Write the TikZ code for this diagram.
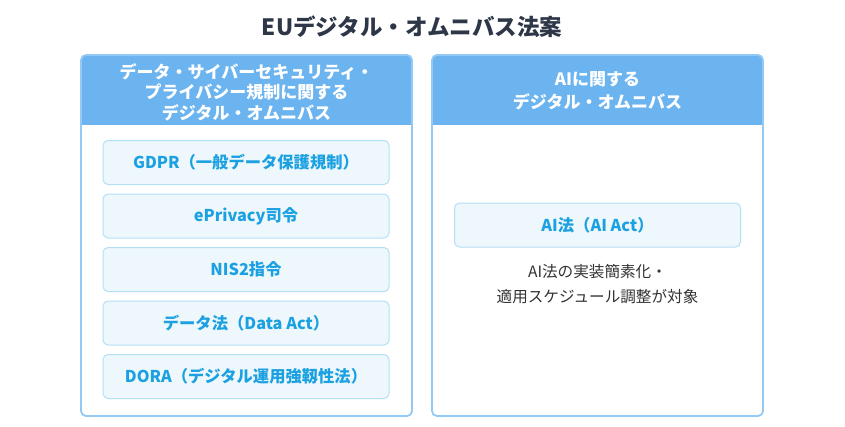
\documentclass[tikz,border=0pt]{standalone}
\usepackage{fontspec}
\setmainfont{Noto Sans CJK JP}
\newfontfamily\jp{Noto Sans CJK JP}
\definecolor{hdrblue}{HTML}{6CB4F0}
\definecolor{panelborder}{HTML}{93C9F5}
\definecolor{itemfill}{HTML}{EEF7FB}
\definecolor{itemborder}{HTML}{B3E0F7}
\definecolor{itemtext}{HTML}{1BA1E2}
\definecolor{titletext}{HTML}{2D3748}
\definecolor{desctext}{HTML}{333333}
\tikzset{
  itembox/.style={draw=itemborder, line width=1pt, fill=itemfill, rounded corners=5pt,
    minimum width=286pt, minimum height=44pt, inner sep=0pt,
    font=\jp\bfseries\fontsize{16.3}{19}\selectfont, text=itemtext},
  hdrtext/.style={font=\jp\bfseries\fontsize{17}{20.5}\selectfont, text=white, align=center},
  paneloutline/.style={draw=panelborder, line width=1.8pt, rounded corners=5pt}
}
\begin{document}
\begin{tikzpicture}[x=1pt,y=-1pt]
\useasboundingbox (0,0) rectangle (845,426);
\fill[white] (0,0) rectangle (845,426);
\node[font=\jp\bfseries\fontsize{22.5}{26}\selectfont, text=titletext] (title) at (412,27) {EUデジタル・オムニバス法案};
% left panel
\begin{scope}
\clip[rounded corners=5pt] (81,55) rectangle (412,416);
\fill[white] (81,55) rectangle (412,416);
\fill[hdrblue] (81,55) rectangle (412,125);
\end{scope}
\draw[paneloutline] (81,55) rectangle (412,416);
\node[hdrtext] (lhdr) at (246.5,92) {データ・サイバーセキュリティ・\\プライバシー規制に関する\\デジタル・オムニバス};
% right panel
\begin{scope}
\clip[rounded corners=5pt] (432,55) rectangle (763,416);
\fill[white] (432,55) rectangle (763,416);
\fill[hdrblue] (432,55) rectangle (763,125);
\end{scope}
\draw[paneloutline] (432,55) rectangle (763,416);
\node[hdrtext, align=center, font=\jp\bfseries\fontsize{17}{22.5}\selectfont] (rhdr) at (597.5,91) {AIに関する\\デジタル・オムニバス};
% left items
\node[itembox] (gdpr) at (246,162.5) {GDPR（一般データ保護規制）};
\node[itembox] (epriv) at (246,216) {ePrivacy司令};
\node[itembox] (nis) at (246,269.5) {NIS2指令};
\node[itembox] (data) at (246,323) {データ法（Data Act）};
\node[itembox] (dora) at (246,376.5) {DORA（デジタル運用強靱性法）};
% right item
\node[itembox] (aiact) at (597.5,225) {AI法（AI Act）};
\node[font=\jp\fontsize{15.6}{25}\selectfont, text=desctext, align=center] (desc) at (597.5,284.5) {AI法の実装簡素化・\\適用スケジュール調整が対象};
\end{tikzpicture}
\end{document}
